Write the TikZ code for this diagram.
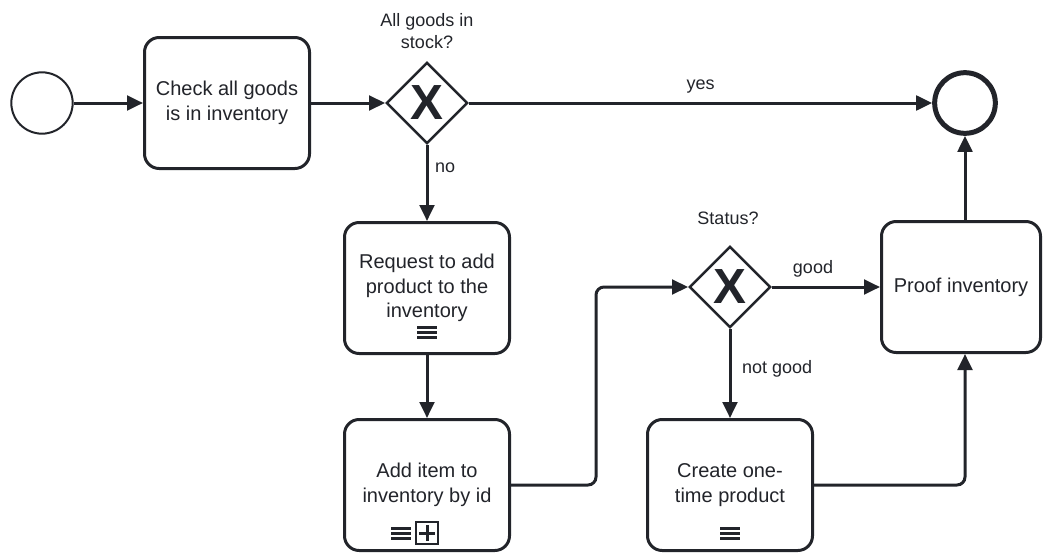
\documentclass[tikz,border=0pt]{standalone}
\usepackage{fontspec}
\setmainfont{Liberation Sans}
\usetikzlibrary{shapes.geometric,arrows.meta,calc}
\definecolor{ink}{HTML}{22242A}
\begin{document}
\begin{tikzpicture}[x=0.75pt,y=-0.75pt,
  task/.style={draw=ink,line width=2.25pt,rounded corners=11pt,fill=white,
    minimum width=123.75pt,minimum height=98.25pt,align=center,text=ink,
    inner sep=0pt,font=\fontsize{15}{18.5}\selectfont},
  gw/.style={draw=ink,line width=1.9pt,diamond,aspect=1,minimum width=61pt,
    minimum height=61pt,inner sep=0pt,fill=white},
  xmark/.style={text=ink,font=\fontsize{37}{37}\selectfont\bfseries,inner sep=0pt},
  startev/.style={draw=ink,circle,line width=1.5pt,minimum size=46pt,inner sep=0pt},
  endev/.style={draw=ink,circle,line width=3.75pt,minimum size=45.5pt,inner sep=0pt},
  flow/.style={draw=ink,line width=2.25pt,rounded corners=6pt,
    -{Triangle[length=12pt,width=11pt]}},
  lbl/.style={text=ink,font=\fontsize{13.5}{16.5}\selectfont,inner sep=0pt,align=center},
  bars/.pic={\foreach \d in {-5,0,5} \draw[ink,line width=2.25pt] (-10,\d) -- (10,\d);},
  subp/.pic={\draw[ink,line width=1.1pt] (-11,-11) rectangle (11,11);
    \draw[ink,line width=2.25pt] (-8,0) -- (8,0) (0,-8) -- (0,8);}
]
\useasboundingbox (0,0) rectangle (1043,553);

% events
\node[startev] (s) at (42,103) {};
\node[endev] (e) at (965,103) {};

% tasks
\node[task] (t1) at (227,103) {Check all goods\\is in inventory};
\node[task] (t2) at (427,288) {Request to add\\product to the\\inventory};
\node[task] (t3) at (427,485) {Add item to\\inventory by id};
\node[task] (t5) at (730,485) {Create one-\\time product};
\node[task,minimum width=119.25pt] (t4) at (961,287) {Proof inventory};

% markers
\pic at ($(t2.center)+(0,44)$) {bars};
\pic at ($(t3.center)+(-26,48)$) {bars};
\pic at ($(t3.center)+(0,48)$) {subp};
\pic at ($(t5.center)+(0,48)$) {bars};

% gateways
\node[gw] (g1) at (427,103) {};
\node[xmark] at (g1) {X};
\node[gw] (g2) at (730,287) {};
\node[xmark] at (g2) {X};

% gateway labels
\node[lbl] (l1) at (427,31) {All goods in\\stock?};
\node[lbl] (l2) at (728,218) {Status?};

% flows
\draw[flow] (s) -- (t1);
\draw[flow] (t1) -- (g1);
\draw[flow] (g1) -- node[lbl,pos=0.5,above=6pt] {yes} (e);
\draw[flow] (g1) -- node[lbl,pos=0.3,right=5pt] {no} (t2);
\draw[flow] (t2) -- (t3);
\draw[flow] (t3.east) -- ($(t3.east)+(85,0)$) |- (g2.west);
\draw[flow] (g2.east) -- node[lbl,pos=0.38,above=6pt] {good} (t4.west);
\draw[flow] (g2) -- node[lbl,pos=0.45,right=8pt] {not good} (t5);
\draw[flow] (t5.east) -| (t4.south -| e);
\draw[flow] (t4.north -| e) -- (e);
\end{tikzpicture}
\end{document}
